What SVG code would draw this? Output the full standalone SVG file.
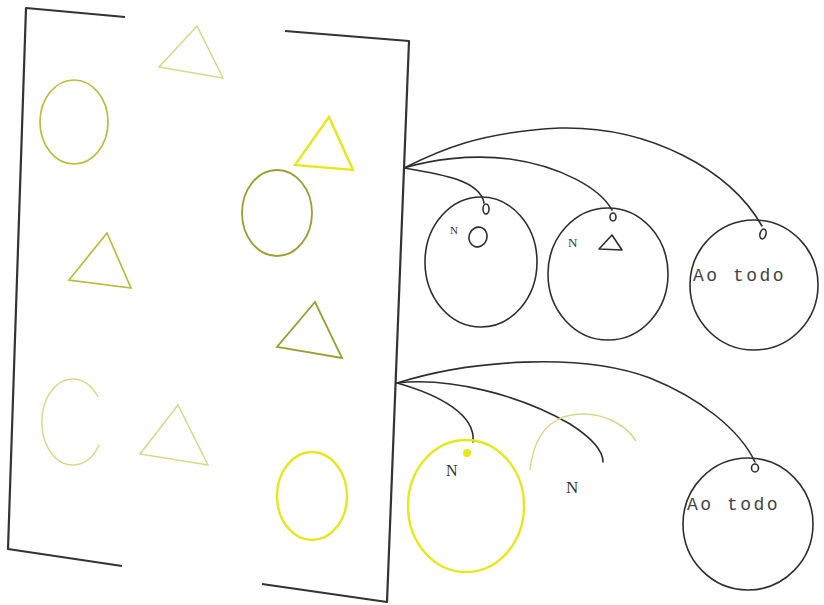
<svg xmlns="http://www.w3.org/2000/svg" width="824" height="605" viewBox="0 0 824 605">
<style>
.ink{fill:none;stroke:#2e2e2e;stroke-width:1.6;stroke-linecap:round;stroke-linejoin:round}
.br{fill:none;stroke:#333;stroke-width:2.2;stroke-linejoin:round}
.yb{fill:none;stroke:#e6e81c;stroke-width:2.4}
.ol{fill:none;stroke:#9aa030;stroke-width:1.8}
.yo{fill:none;stroke:#bdbb3a;stroke-width:1.7}
.fy{fill:none;stroke:#d9d78a;stroke-width:1.5}
.n{font-family:"Liberation Serif",serif;fill:#333}
.mono{font-family:"Liberation Mono",monospace;fill:#444;font-size:18px;letter-spacing:2.5px}
</style>
<rect width="824" height="605" fill="#fff"/>
<g id="left-bracket"><path class="br" d="M125,17 L26,8 L8,549 L122,566"/></g>
<g id="right-bracket"><path class="br" d="M285,31 L409,41 L387,602 L262,584"/></g>
<g id="shapes">
<path class="fy" d="M197,26 L159,67 L223,78 Z" stroke="#c8c66a"/>
<ellipse class="yo" cx="74" cy="122" rx="34" ry="42"/>
<path class="yb" d="M329,117 L295,165 L353,170 Z"/>
<ellipse class="ol" cx="277" cy="213" rx="35" ry="43" stroke="#8a9232"/>
<path class="yo" d="M107,233 L69,280 L131,288 Z"/>
<path class="ol" d="M315,302 L277,347 L342,358 Z"/>
<path class="fy" d="M98,397 A31,43 0 1 0 99,445"/>
<path class="fy" d="M178,405 L140,454 L208,465 Z" stroke="#d2cf78"/>
<ellipse class="yb" cx="312" cy="496" rx="35" ry="44"/>
</g>
<g id="connectors">
<path class="ink" d="M404,168 C440,174 480,180 484,203"/>
<path class="ink" d="M404,168 C430,160 470,154 510,159 C560,166 600,188 612,210"/>
<path class="ink" d="M404,168 C440,150 480,132 560,128 C650,126 730,170 762,226" stroke-dasharray="none"/>
<path class="ink" d="M397,383 C440,395 476,415 473,442"/>
<path class="ink" d="M397,383 C450,377 520,395 570,424 C595,440 603,452 603,462"/>
<path class="ink" d="M397,383 C470,360 580,352 650,378 C700,398 740,430 755,462"/>
</g>
<g id="node-n-circle">
<ellipse class="ink" cx="481" cy="262" rx="56" ry="65"/>
<ellipse class="ink" cx="486" cy="209" rx="3" ry="5"/>
<text class="n" x="450" y="234" font-size="11" fill="#666">N</text>
<ellipse class="ink" cx="478" cy="237" rx="9" ry="10" transform="rotate(20 478 237)" stroke-width="2"/>
</g>
<g id="node-n-triangle">
<ellipse class="ink" cx="608" cy="274" rx="60" ry="66"/>
<ellipse class="ink" cx="613" cy="217" rx="3" ry="4"/>
<text class="n" x="568" y="247" font-size="13" fill="#888">N</text>
<path class="ink" d="M612,235 L599,249 L622,250 Z" stroke-width="2"/>
</g>
<g id="node-ao-todo-1">
<ellipse class="ink" cx="754" cy="285" rx="64" ry="65"/>
<ellipse class="ink" cx="763" cy="234" rx="3" ry="5" transform="rotate(15 763 234)"/>
<text class="mono" x="693" y="281">Ao todo</text>
</g>
<g id="node-n-yellow">
<ellipse class="yb" cx="466" cy="506" rx="58" ry="66"/>
<ellipse cx="467" cy="453" rx="4" ry="4" fill="#e8e81c"/>
<text class="n" x="446" y="476" font-size="16">N</text>
</g>
<g id="node-n-faint">
<path class="fy" d="M530,470 C535,425 560,413 585,414 C610,415 628,428 636,441" stroke="#e4e47a"/>
<text class="n" x="566" y="493" font-size="17" fill="#555">N</text>
</g>
<g id="node-ao-todo-2">
<ellipse class="ink" cx="748" cy="524" rx="65" ry="66"/>
<ellipse class="ink" cx="755" cy="468" rx="3.5" ry="4"/>
<text class="mono" x="687" y="510">Ao todo</text>
</g>
</svg>
